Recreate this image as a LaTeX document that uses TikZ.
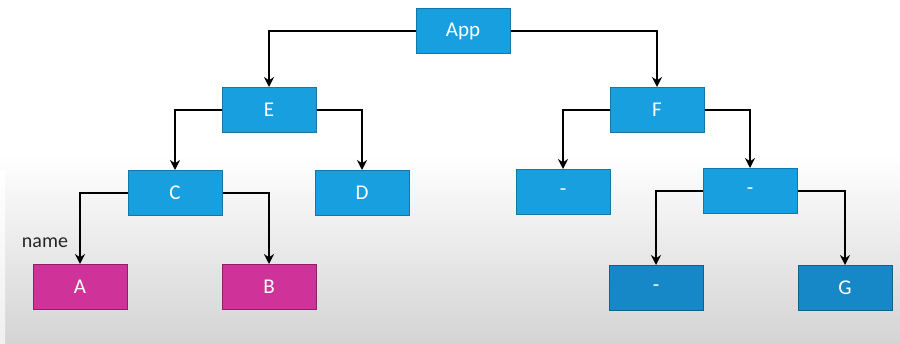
\documentclass[tikz,border=0pt]{standalone}
\usepackage{fontspec}
\setmainfont{Carlito}
\usetikzlibrary{arrows.meta}
\definecolor{boxblue}{HTML}{189FE0}
\definecolor{boxblueedge}{HTML}{1577A8}
\definecolor{leafblue}{HTML}{1688C8}
\definecolor{leafblueedge}{HTML}{10618F}
\definecolor{boxpink}{HTML}{CF3399}
\definecolor{boxpinkedge}{HTML}{8E1F68}
\begin{document}
\begin{tikzpicture}[x=1pt,y=-1pt,
  treebox/.style={draw=boxblueedge, line width=1pt, fill=boxblue, minimum width=94pt, minimum height=45pt,
    inner sep=0pt, text=white, font=\fontsize{21}{21}\selectfont},
  leafbox/.style={treebox, draw=leafblueedge, fill=leafblue},
  pinkbox/.style={treebox, draw=boxpinkedge, fill=boxpink},
  link/.style={draw=black, line width=2.7pt, -{Stealth[length=10pt,width=10pt]}}
]
% page and background shading
\useasboundingbox (0,0) rectangle (900,343);
\fill[white] (0,0) rectangle (900,343);
\shade[top color=white, bottom color=white!83!black] (0,155) rectangle (900,343);
\shade[top color=white, bottom color=white!94!black] (0,170) rectangle (5,343);

% nodes
\node[treebox] (app) at (463,31) {App};
\node[treebox] (e) at (269,110) {E};
\node[treebox] (f) at (657,110) {F};
\node[treebox] (c) at (175,193) {C};
\node[treebox] (d) at (362,193) {D};
\node[treebox] (fl) at (563,192) {-};
\node[treebox] (fr) at (750,191) {-};
\node[pinkbox] (a) at (80,287) {A};
\node[pinkbox] (b) at (269,287) {B};
\node[leafbox] (frl) at (656,288) {-};
\node[leafbox] (g) at (845,288) {G};
\node[font=\fontsize{20}{20}\selectfont, text=black!85] (lbl) at (45,243) {name};

% connectors
\draw[link] (app.west) -| (e.north);
\draw[link] (app.east) -| (f.north);
\draw[link] (e.west) -| (c.north);
\draw[link] (e.east) -| (d.north);
\draw[link] (f.west) -| (fl.north);
\draw[link] (f.east) -| (fr.north);
\draw[link] (c.west) -| (a.north);
\draw[link] (c.east) -| (b.north);
\draw[link] (fr.west) -| (frl.north);
\draw[link] (fr.east) -| (g.north);
\end{tikzpicture}
\end{document}
